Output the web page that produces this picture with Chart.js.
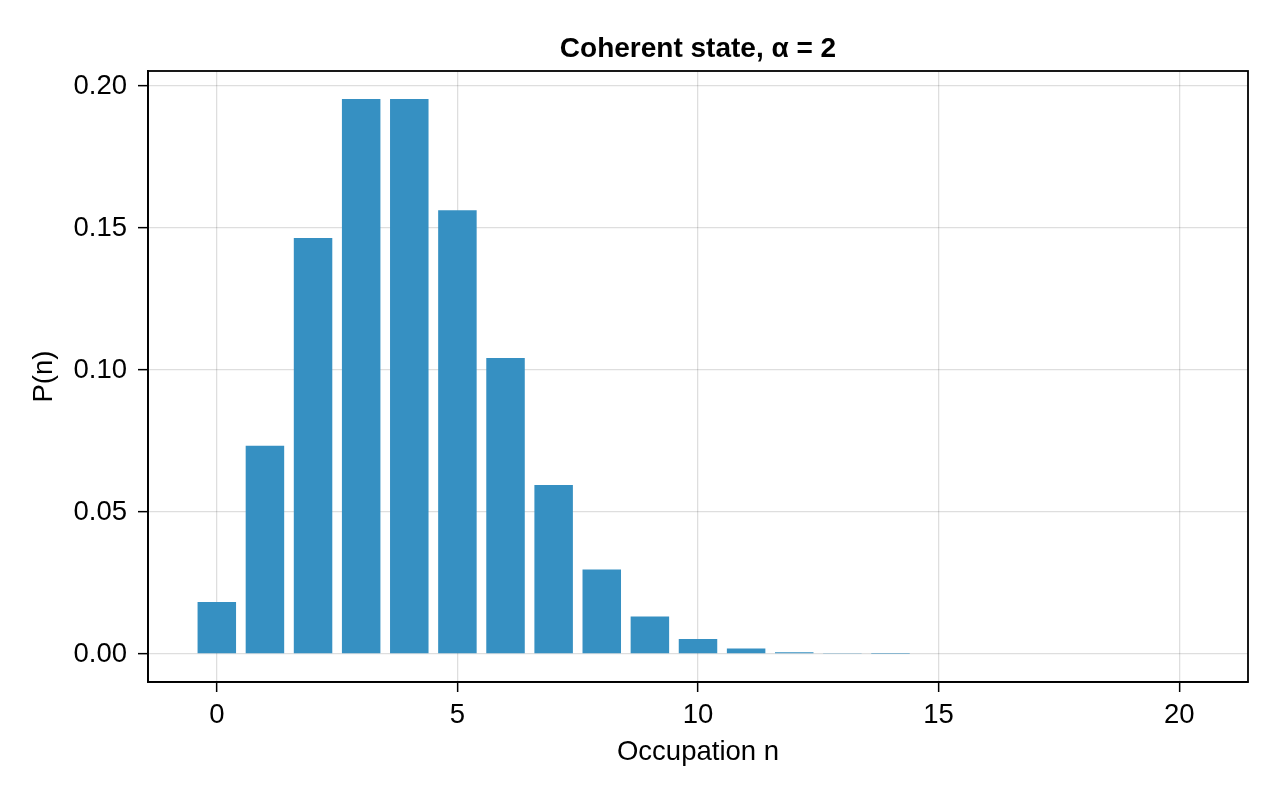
<!DOCTYPE html>
<html>
<head>
<meta charset="utf-8">
<script src="https://cdn.jsdelivr.net/npm/chart.js@4.4.1/dist/chart.umd.min.js"></script>
<style>
    html, body { margin: 0; padding: 0; background: #fff; }
    canvas { display: block; }
</style>
</head>
<body>
<canvas id="poissonChart" width="1280" height="800"></canvas>
<script>
// occupation numbers and their probabilities
const occupation = [0, 1, 2, 3, 4, 5, 6, 7, 8, 9, 10, 11, 12, 13, 14, 15, 16, 17, 18, 19, 20];
const probability = [0.0183, 0.0733, 0.1465, 0.1954, 0.1954, 0.1563, 0.1042, 0.0595, 0.0298, 0.0132,
    0.0053, 0.0019, 0.0006, 0.0002, 0.00005, 0, 0, 0, 0, 0, 0];
const xTicks = [0, 5, 10, 15, 20];
const yTicks = [0.00, 0.05, 0.10, 0.15, 0.20];

const fontFamily = '"Liberation Sans", Arial, Helvetica, sans-serif';

// top and right spines, Chart.js only draws the axis borders
const frame = {
    id: 'frame',
    afterDraw(chart) {
        const { ctx, chartArea } = chart;
        ctx.save();
        ctx.strokeStyle = '#000';
        ctx.lineWidth = 1.8;
        ctx.strokeRect(chartArea.left, chartArea.top, chartArea.right - chartArea.left, chartArea.bottom - chartArea.top);
        ctx.restore();
    }
};

function initChart() {
    const ctx = document.getElementById('poissonChart').getContext('2d');
    new Chart(ctx, {
        type: 'bar',
        data: {
            datasets: [{
                data: occupation.map((n, i) => ({ x: n, y: probability[i] })),
                backgroundColor: 'rgb(54, 144, 194)',
                borderWidth: 0,
                barPercentage: 0.8,
                categoryPercentage: 1.0
            }]
        },
        options: {
            responsive: false,
            animation: false,
            devicePixelRatio: 1,
            layout: { padding: { left: 0, right: 32, top: 0, bottom: 0 } },
            plugins: {
                legend: { display: false },
                tooltip: { enabled: false },
                title: {
                    display: true,
                    fullSize: false,
                    text: 'Coherent state, α = 2',
                    color: '#000',
                    font: { family: fontFamily, size: 28, weight: 'bold' },
                    padding: { top: 32, bottom: 5.4 }
                }
            },
            scales: {
                x: {
                    type: 'linear',
                    min: -1.43,
                    max: 21.43,
                    offset: false,
                    afterBuildTicks: scale => { scale.ticks = xTicks.map(v => ({ value: v })); },
                    afterFit: scale => { scale.height = 118; },
                    ticks: {
                        color: '#000',
                        padding: 7,
                        maxRotation: 0,
                        font: { family: fontFamily, size: 27.5 },
                        callback: v => String(v)
                    },
                    grid: {
                        color: 'rgba(0, 0, 0, 0.13)',
                        lineWidth: 1.3,
                        offset: false,
                        tickLength: 10,
                        tickColor: '#000',
                        tickWidth: 1.5
                    },
                    border: { color: '#000', width: 1.8 },
                    title: {
                        display: true,
                        text: 'Occupation n',
                        color: '#000',
                        font: { family: fontFamily, size: 27.5 },
                        padding: { top: 0, bottom: 31 }
                    }
                },
                y: {
                    min: -0.00986,
                    max: 0.2053,
                    afterBuildTicks: scale => { scale.ticks = yTicks.map(v => ({ value: v })); },
                    afterFit: scale => { scale.width = 148; },
                    ticks: {
                        color: '#000',
                        padding: 11,
                        font: { family: fontFamily, size: 27.5 },
                        callback: v => v.toFixed(2)
                    },
                    grid: {
                        color: 'rgba(0, 0, 0, 0.13)',
                        lineWidth: 1.3,
                        tickLength: 10,
                        tickColor: '#000',
                        tickWidth: 1.5
                    },
                    border: { color: '#000', width: 1.8 },
                    title: {
                        display: true,
                        text: 'P(n)',
                        color: '#000',
                        font: { family: fontFamily, size: 27.5 },
                        padding: { top: 28, bottom: 0 }
                    }
                }
            }
        },
        plugins: [frame]
    });
}

document.addEventListener('DOMContentLoaded', initChart);
</script>
</body>
</html>
